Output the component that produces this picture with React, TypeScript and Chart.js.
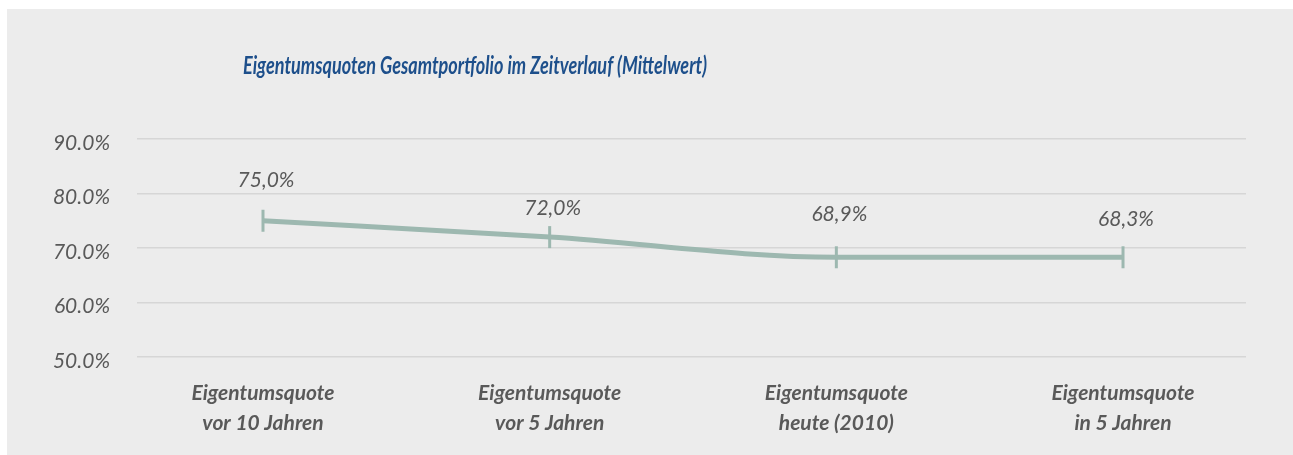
import React, { useEffect, useRef } from "react";
import { Chart, registerables } from "chart.js";

Chart.register(...registerables);

const title = "Eigentumsquoten Gesamtportfolio im Zeitverlauf (Mittelwert)";
const categories: string[][] = [
  ["Eigentumsquote", "vor 10 Jahren"],
  ["Eigentumsquote", "vor 5 Jahren"],
  ["Eigentumsquote", "heute (2010)"],
  ["Eigentumsquote", "in 5 Jahren"],
];
const values: number[] = [75.0, 72.0, 68.3, 68.3];
const valueLabels: string[] = ["75,0%", "72,0%", "68,9%", "68,3%"];
const yTicks: number[] = [50, 60, 70, 80, 90];

const FONT = "Lato, 'Open Sans', sans-serif";
const TEXT = "#595959";
const LINE = "#9db8b0";

const labelPlugin = {
  id: "valueLabels",
  afterDatasetsDraw(chart: any) {
    const ctx = chart.ctx;
    const meta = chart.getDatasetMeta(0);
    const offsets = [41, 29, 43, 38];
    ctx.save();
    ctx.font = `italic 400 21px ${FONT}`;
    ctx.fillStyle = TEXT;
    ctx.textAlign = "center";
    ctx.textBaseline = "middle";
    meta.data.forEach((pt: any, i: number) => {
      ctx.fillText(valueLabels[i], pt.x + 3, pt.y - offsets[i]);
    });
    ctx.restore();
  },
};

const titlePlugin = {
  id: "leftTitle",
  afterDraw(chart: any) {
    const ctx = chart.ctx;
    ctx.save();
    ctx.font = `italic 700 24px ${FONT}`;
    ctx.fillStyle = "#1d4f8b";
    ctx.textAlign = "left";
    ctx.textBaseline = "middle";
    const w = ctx.measureText(title).width;
    const sx = Math.min(1, 464 / w);
    ctx.translate(236, 57);
    ctx.scale(sx, 1);
    ctx.fillText(title, 0, 0);
    ctx.restore();
  },
};

export default function App() {
  const ref = useRef<HTMLCanvasElement | null>(null);
  useEffect(() => {
    if (!ref.current) return;
    const chart = new Chart(ref.current, {
      type: "line",
      data: {
        datasets: [
          {
            data: values.map((v, i) => ({ x: i, y: v })),
            borderColor: LINE,
            backgroundColor: LINE,
            borderWidth: 5,
            cubicInterpolationMode: "monotone",
            pointStyle: "line",
            rotation: 90,
            pointRadius: 11,
            pointBorderWidth: 3,
            pointBorderColor: LINE,
          },
        ],
      },
      options: {
        animation: false,
        responsive: false,
        layout: { padding: { left: 0, right: 47, top: 130, bottom: 0 } },
        plugins: { legend: { display: false }, tooltip: { enabled: false }, title: { display: false } },
        scales: {
          x: {
            type: "linear",
            min: -0.4395,
            max: 3.429,
            grid: { display: false },
            border: { display: false },
            afterBuildTicks: (axis: any) => {
              axis.ticks = categories.map((_, i) => ({ value: i }));
            },
            afterFit: (s: any) => {
              s.height = 98;
            },
            ticks: {
              autoSkip: false,
              maxRotation: 0,
              padding: 14,
              color: TEXT,
              font: { family: FONT, size: 21, style: "italic", weight: "bold", lineHeight: 1.4 },
              callback: (v: any) => categories[v] ?? "",
            },
          },
          y: {
            min: 50,
            max: 90,
            afterBuildTicks: (axis: any) => {
              axis.ticks = yTicks.map((v) => ({ value: v }));
            },
            afterFit: (s: any) => {
              s.width = 130;
            },
            border: { display: false },
            grid: { color: "#d6d6d6", lineWidth: 1.5, drawTicks: false },
            ticks: {
              padding: 27,
              labelOffset: 4,
              color: TEXT,
              font: { family: FONT, size: 21, style: "italic" },
              callback: (v: any) => Number(v).toFixed(1) + "%",
            },
          },
        },
      },
      plugins: [labelPlugin, titlePlugin],
    });
    return () => chart.destroy();
  }, []);
  return (
    <div style={{ position: "fixed", left: 7, top: 9, right: 0, bottom: 0, background: "#ececec" }}>
      <canvas ref={ref} width={1286} height={446} style={{ display: "block", width: 1286, height: 446 }} />
    </div>
  );
}
